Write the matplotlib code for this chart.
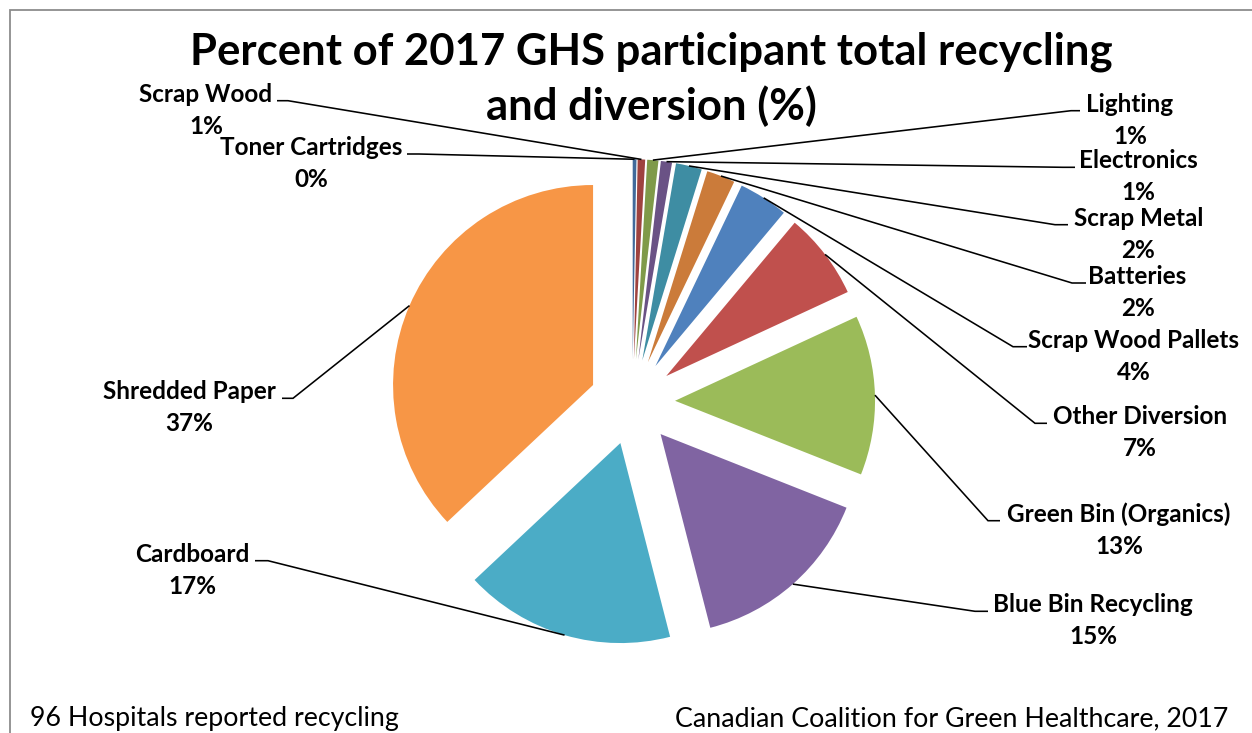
import matplotlib
matplotlib.use("Agg")
import matplotlib.pyplot as plt
from matplotlib.patches import Rectangle
import numpy as np

# ---- data -------------------------------------------------------------
categories = ["Toner Cartridges", "Scrap Wood", "Lighting", "Electronics",
              "Scrap Metal", "Batteries", "Scrap Wood Pallets", "Other Diversion",
              "Green Bin (Organics)", "Blue Bin Recycling", "Cardboard",
              "Shredded Paper"]
shares = [0.3, 0.6, 0.9, 0.9, 2.1, 2.3, 4.0, 7.0, 12.9, 15.0, 17.0, 37.0]

title_lines = ["Percent of 2017 GHS participant total recycling",
               "and diversion (%)"]
footer_left = "96 Hospitals reported recycling"
footer_right = "Canadian Coalition for Green Healthcare, 2017"

# ---- style ------------------------------------------------------------
colors = ["#416A9B", "#9E423F", "#7F9A49", "#6A5285", "#3E8DA3", "#CB7B3A",
          "#4F81BD", "#C0504D", "#9BBB59", "#8064A2", "#4BACC6", "#F79646"]
FONT = ["Lato", "DejaVu Sans"]

W, H, DPI = 1252, 733, 100
CX, CY, R = 632.3, 402.0, 200.0          # pie centre / radius in pixels
EXPLODE = 42.75 / R

# label layout (pixels): text centre x, name baseline y, leader stub ends
label_x = [311.5, 206, 1130, 1138.5, 1138.5, 1137.5, 1134, 1140, 1119, 1093, 192, 189]
label_base = [155, 101.7, 111.7, 168.3, 225.7, 284, 347.7, 424.3, 521.7, 612.3, 561.7, 399.3]
stub_inner = [407, 277, 1080, 1075, 1068, 1086, 1027, 1047, 1000, 988, 255, 282]
stub_outer = [419, 288, 1071, 1063, 1055, 1072, 1013, 1035, 988, 975, 268, 293]
LINE_GAP = 32.0

fig = plt.figure(figsize=(W / DPI, H / DPI), dpi=DPI)
ax = fig.add_axes([0, 0, 1, 1])


def px(x, y):
    return (x - CX) / R, (CY - y) / R


wedges, _ = ax.pie(shares, colors=colors, explode=[EXPLODE] * len(shares),
                   startangle=90, counterclock=False, radius=1,
                   wedgeprops=dict(linewidth=0), frame=False)
ax.set_xlim(-CX / R, (W - CX) / R)
ax.set_ylim(-(H - CY) / R, CY / R)
ax.set_aspect("auto")
ax.axis("off")

renderer = fig.canvas.get_renderer()


def fit_width(t, target):
    for _ in range(2):
        w = t.get_window_extent(renderer).width
        t.set_fontsize(t.get_fontsize() * target / w)


# data labels with leader lines
name_texts, pct_texts = [], []
for i, (cat, val) in enumerate(zip(categories, shares)):
    x0, y0 = px(label_x[i], label_base[i])
    tn = ax.text(x0, y0, cat, ha="center", va="baseline", fontsize=18,
                 fontweight="bold", family=FONT, color="black")
    x1, y1 = px(label_x[i], label_base[i] + LINE_GAP)
    tp = ax.text(x1, y1, f"{round(val)}%", ha="center", va="baseline",
                 fontsize=18, fontweight="bold", family=FONT, color="black")
    name_texts.append(tn)
    pct_texts.append(tp)

    wdg = wedges[i]
    mid = np.deg2rad((wdg.theta1 + wdg.theta2) / 2)
    ex = wdg.center[0] + wdg.r * np.cos(mid)
    ey = wdg.center[1] + wdg.r * np.sin(mid)
    sy = label_base[i] - 1
    ox, oy = px(stub_outer[i], sy)
    ix, iy = px(stub_inner[i], sy)
    ax.plot([ex, ox, ix], [ey, oy, iy], color="black", lw=1.15,
            solid_capstyle="butt", solid_joinstyle="miter", zorder=5)

fit_width(name_texts[categories.index("Scrap Wood Pallets")], 212)
label_size = name_texts[categories.index("Scrap Wood Pallets")].get_fontsize()
for t in name_texts + pct_texts:
    t.set_fontsize(label_size)

# title
t1 = ax.text(*px(651, 65), title_lines[0], ha="center", va="baseline",
             fontsize=30, fontweight="bold", family=FONT)
fit_width(t1, 922)
t2 = ax.text(*px(651, 120), title_lines[1], ha="center", va="baseline",
             fontsize=t1.get_fontsize(), fontweight="bold", family=FONT)

# footers
f2 = ax.text(*px(1228, 726), footer_right, ha="right", va="baseline",
             fontsize=17, family=FONT)
fit_width(f2, 552)
f1 = ax.text(*px(30, 726), footer_left, ha="left", va="baseline",
             fontsize=f2.get_fontsize(), family=FONT)

# chart area border (left and top edges fall inside the image)
fig.add_artist(Rectangle((10 / W, -0.05), (1300 - 10) / W, 1 - 10 / H + 0.05,
                         transform=fig.transFigure, fill=False,
                         edgecolor="#8c8c8c", lw=1.3, clip_on=False))

fig.savefig("out.png", dpi=DPI)
